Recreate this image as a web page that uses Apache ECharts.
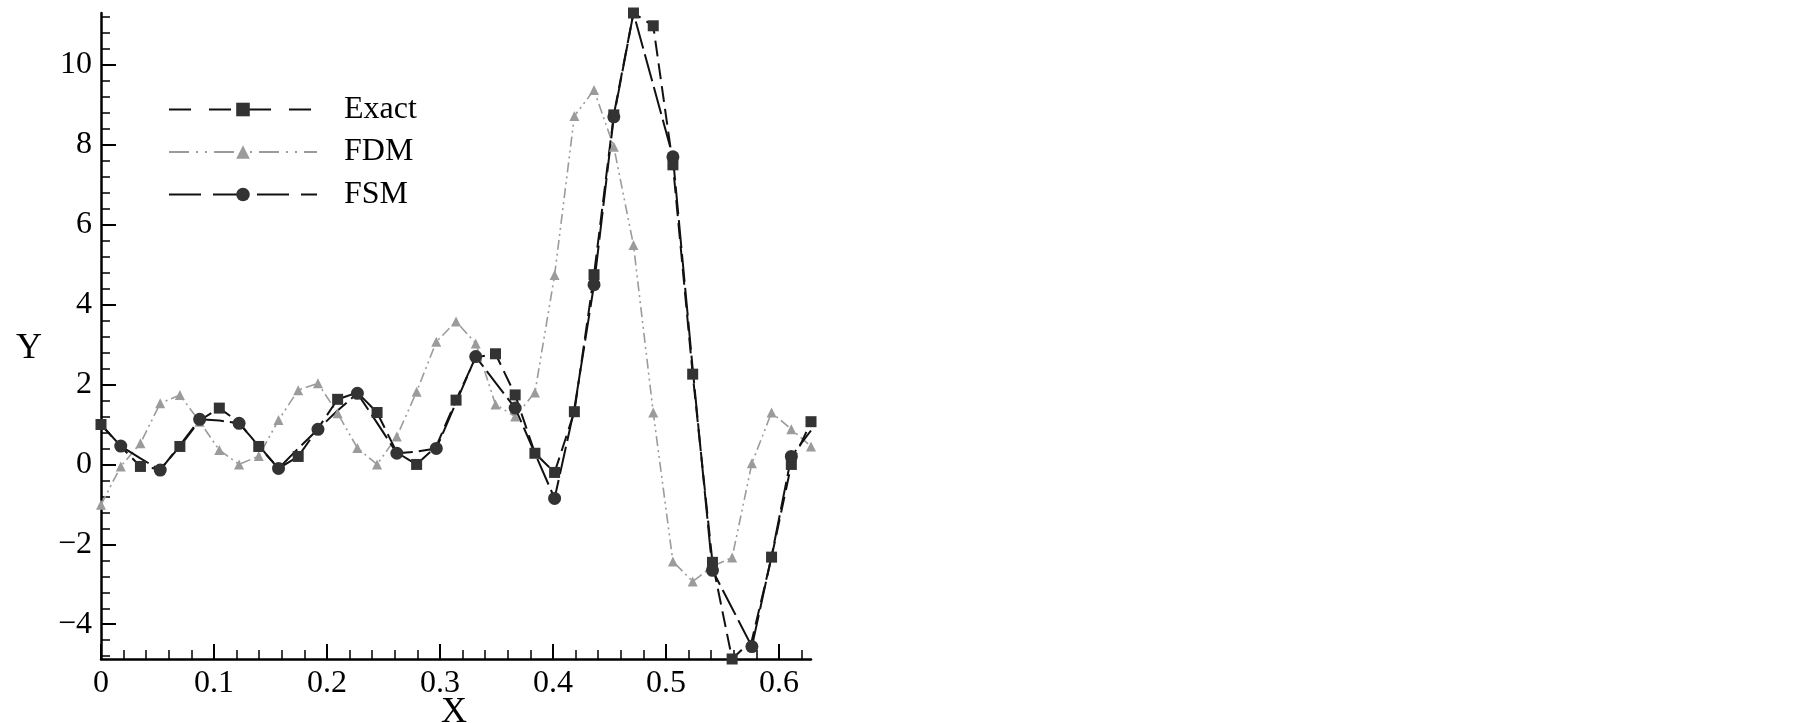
<!DOCTYPE html>
<html>
<head>
<meta charset="utf-8">
<script src="https://cdn.jsdelivr.net/npm/echarts@6/dist/echarts.min.js"></script>
<style>
  html, body { margin: 0; padding: 0; background: #fff; }
  #chart { width: 1805px; height: 723px; }
</style>
</head>
<body>
<div id="chart"></div>
<script>
// sample points along X (one degree apart, 0 .. pi/5)
const xs = [0, 0.0175, 0.0349, 0.0524, 0.0698, 0.0873, 0.1047, 0.1222, 0.1396, 0.1571,
  0.1745, 0.1920, 0.2094, 0.2269, 0.2443, 0.2618, 0.2793, 0.2967, 0.3142, 0.3316,
  0.3491, 0.3665, 0.3840, 0.4014, 0.4189, 0.4363, 0.4538, 0.4712, 0.4887, 0.5061,
  0.5236, 0.5411, 0.5585, 0.5760, 0.5934, 0.6109, 0.6283]

const exactY = [1.0, 0.45, -0.05, -0.12, 0.45, 1.1, 1.41, 1.05, 0.45, -0.1,
  0.2, 0.9, 1.63, 1.8, 1.3, 0.3, 0.0, 0.45, 1.61, 2.68,
  2.77, 1.74, 0.28, -0.2, 1.32, 4.75, 8.75, 11.3, 10.98, 7.5,
  2.26, -2.45, -4.87, -4.4, -2.32, 0.0, 1.07]

const fdmY = [-1.01, -0.05, 0.53, 1.53, 1.74, 1.07, 0.36, 0.0, 0.21, 1.11,
  1.86, 2.03, 1.28, 0.41, 0.0, 0.7, 1.82, 3.07, 3.58, 3.03,
  1.5, 1.2, 1.8, 4.74, 8.72, 9.37, 7.95, 5.49, 1.3, -2.43,
  -2.93, -2.55, -2.33, 0.03, 1.3, 0.88, 0.45]

const fsmY = [1.0, 0.46, 0.15, -0.14, 0.48, 1.13, 1.1, 1.03, 0.47, -0.1,
  0.4, 0.88, 1.35, 1.78, 1.04, 0.28, 0.32, 0.4, 1.55, 2.7,
  2.05, 1.41, 0.28, -0.85, 1.4, 4.5, 8.7, 11.3, 9.5, 7.7,
  2.4, -2.65, -3.6, -4.56, -2.3, 0.2, 0.85]

const xTicks = [0, 0.1, 0.2, 0.3, 0.4, 0.5, 0.6]
const yTicks = [-4, -2, 0, 2, 4, 6, 8, 10]

// symbols are skipped along the curve like in the original plot
const exactMarks = [0, 2, 4, 6, 8, 10, 12, 14, 16, 18, 20, 21, 22, 23, 24, 25, 26, 27, 28, 29, 30, 31, 32, 34, 35, 36]
const fsmMarks = [1, 3, 5, 7, 9, 11, 13, 15, 17, 19, 21, 23, 25, 26, 29, 31, 33, 35]

const X_MIN = 0, X_MAX = 0.6283
const Y_MIN = -4.87, Y_MAX = 11.3

// minor ticks
const xMinor = []
for (let v = 0; v <= 0.6201; v += 0.02) xMinor.push(+v.toFixed(2))
const yMinor = []
for (let v = -4.8; v <= 11.21; v += 0.4) yMinor.push(+v.toFixed(1))

const FONT = 'Liberation Serif'
const fmt = v => (v < 0 ? '\u2212' + Math.abs(v) : String(v))
const pairs = ys => xs.map((x, i) => [x, ys[i]])

const axisLine = { show: true, onZero: false, lineStyle: { color: '#000', width: 2.5 } }

const chart = echarts.init(document.getElementById('chart'))
chart.setOption({
  animation: false,
  backgroundColor: '#fff',
  grid: { left: 101, right: 994, top: 13, bottom: 64 },
  xAxis: [
    {
      type: 'value', min: X_MIN, max: X_MAX,
      axisLine: axisLine,
      axisTick: { inside: true, length: 15, customValues: xTicks, lineStyle: { color: '#000', width: 2 } },
      axisLabel: { customValues: xTicks, formatter: fmt, margin: 9, color: '#000', fontFamily: FONT, fontSize: 32 },
      splitLine: { show: false }
    },
    {
      type: 'value', min: X_MIN, max: X_MAX, position: 'bottom',
      axisLine: { show: false, onZero: false },
      axisTick: { inside: true, length: 9, customValues: xMinor, lineStyle: { color: '#000', width: 1.5 } },
      axisLabel: { show: false },
      splitLine: { show: false }
    }
  ],
  yAxis: [
    {
      type: 'value', min: Y_MIN, max: Y_MAX,
      axisLine: axisLine,
      axisTick: { inside: true, length: 15, customValues: yTicks, lineStyle: { color: '#000', width: 2 } },
      axisLabel: { customValues: yTicks, formatter: fmt, margin: 9, color: '#000', fontFamily: FONT, fontSize: 32 },
      splitLine: { show: false }
    },
    {
      type: 'value', min: Y_MIN, max: Y_MAX, position: 'left',
      axisLine: { show: false, onZero: false },
      axisTick: { inside: true, length: 9, customValues: yMinor, lineStyle: { color: '#000', width: 1.5 } },
      axisLabel: { show: false },
      splitLine: { show: false }
    }
  ],
  legend: {
    orient: 'vertical', left: 168, top: 93.5, padding: 0,
    itemWidth: 148, itemHeight: 17, itemGap: 10.5,
    data: [
      { name: 'Exact', lineStyle: { type: [22, 18] } },
      { name: 'FDM', lineStyle: { type: [20, 7, 2, 7, 2, 7] } },
      { name: 'FSM', lineStyle: { type: [32, 12] } }
    ],
    textStyle: { fontFamily: FONT, fontSize: 32, lineHeight: 32, color: '#000', padding: [0, 0, 0, 22] }
  },
  graphic: [
    { type: 'text', x: 454, y: 713, style: { text: 'X', font: '36px "Liberation Serif"', fill: '#000', textAlign: 'center', textVerticalAlign: 'middle' } },
    { type: 'text', x: 29, y: 349, style: { text: 'Y', font: '36px "Liberation Serif"', fill: '#000', textAlign: 'center', textVerticalAlign: 'middle' } }
  ],
  series: [
    {
      name: 'FDM', type: 'line', data: pairs(fdmY),
      symbol: 'triangle', symbolSize: 10, showAllSymbol: true,
      itemStyle: { color: '#9b9b9b' },
      lineStyle: { color: '#9b9b9b', width: 1.6, type: [10, 4, 2, 4, 2, 4] },
      clip: false
    },
    {
      name: 'Exact', type: 'line', data: pairs(exactY),
      symbol: 'rect', showAllSymbol: true,
      symbolSize: (v, p) => (exactMarks.includes(p.dataIndex) ? 11 : 0),
      itemStyle: { color: '#333' },
      lineStyle: { color: '#111', width: 2, type: [16, 7] },
      clip: false
    },
    {
      name: 'FSM', type: 'line', data: pairs(fsmY),
      symbol: 'circle', showAllSymbol: true,
      symbolSize: (v, p) => (fsmMarks.includes(p.dataIndex) ? 13 : 0),
      itemStyle: { color: '#333' },
      lineStyle: { color: '#111', width: 2, type: [28, 6] },
      clip: false
    }
  ]
})
</script>
</body>
</html>
